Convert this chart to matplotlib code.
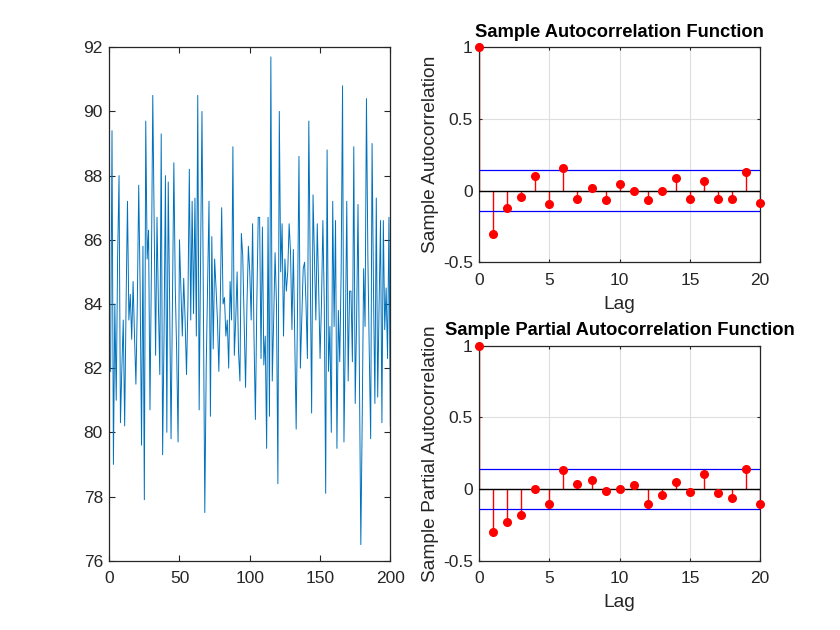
import numpy as np
import matplotlib
matplotlib.use("Agg")
import matplotlib.pyplot as plt

plt.rcParams['font.family'] = ['Liberation Sans', 'DejaVu Sans']

# ---- data ----
series = [
    81.9, 89.4, 79.0, 84.0, 81.0, 85.5, 88.0, 80.3, 82.0, 83.5,
    80.2, 84.0, 87.2, 83.5, 84.3, 82.9, 84.7, 83.0, 81.5, 84.0,
    87.7, 84.5, 79.6, 85.8, 77.9, 89.7, 85.4, 86.3, 80.7, 85.0,
    90.5, 86.5, 82.4, 86.7, 84.0, 81.8, 89.3, 79.3, 83.0, 88.0,
    80.0, 87.8, 84.0, 79.8, 84.0, 88.4, 84.5, 82.5, 79.7, 86.0,
    84.5, 83.0, 84.8, 83.5, 81.8, 84.0, 88.2, 83.5, 87.2, 83.7,
    87.3, 83.0, 90.5, 80.7, 85.5, 90.0, 84.0, 77.5, 82.0, 84.7,
    87.2, 80.5, 86.1, 82.6, 85.4, 84.5, 83.5, 81.9, 84.0, 87.0,
    84.0, 84.2, 83.0, 83.5, 82.0, 84.7, 83.5, 88.9, 82.4, 83.5,
    85.0, 82.5, 81.6, 86.2, 85.5, 83.5, 81.4, 84.0, 85.8, 85.0,
    83.5, 86.5, 83.0, 80.4, 84.0, 86.7, 86.7, 82.3, 86.4, 82.1,
    83.0, 79.5, 86.7, 80.5, 91.7, 81.6, 83.5, 85.6, 84.0, 78.4,
    90.0, 85.0, 86.5, 83.0, 85.4, 84.4, 85.0, 86.5, 85.6, 83.2,
    85.7, 83.0, 80.1, 84.0, 88.6, 82.0, 83.5, 85.1, 85.3, 84.0,
    82.3, 89.7, 85.0, 80.6, 87.4, 85.5, 83.5, 86.5, 84.5, 82.3,
    84.0, 86.6, 84.0, 78.1, 88.8, 81.9, 83.3, 80.0, 87.2, 83.3,
    86.6, 79.5, 83.8, 82.2, 85.0, 90.8, 79.7, 83.0, 87.2, 81.6,
    84.4, 84.4, 82.2, 88.9, 80.9, 83.5, 87.1, 82.0, 76.5, 80.5,
    85.1, 83.3, 90.4, 85.5, 82.5, 79.8, 89.0, 84.5, 80.9, 87.3,
    81.1, 84.0, 86.6, 80.3, 86.6, 83.2, 84.5, 82.3, 86.7, 80.2,
]
time_index = np.arange(1, len(series) + 1)

lags = np.arange(0, 21)
acf_values = [1.0, -0.30, -0.12, -0.047, 0.105, -0.096, 0.159, -0.061, 0.016,
              -0.063, 0.047, 0.0, -0.063, 0.0, 0.091, -0.061, 0.065, -0.056,
              -0.056, 0.131, -0.084]
pacf_values = [1.0, -0.299, -0.229, -0.182, -0.002, -0.107, 0.133, 0.033, 0.061,
               -0.014, -0.002, 0.028, -0.107, -0.04, 0.051, -0.021, 0.103, -0.026,
               -0.065, 0.138, -0.105]
conf_bound = 0.1414

# ---- style ----
AX_COL = '#262626'
TICK_FS = 12.5
LABEL_FS = 13.75
TITLE_FS = 13.2


def style_axes(ax, ticklen=4.0):
    for s in ax.spines.values():
        s.set_color(AX_COL)
        s.set_linewidth(0.9)
    ax.tick_params(direction='in', top=True, right=True, length=ticklen,
                   width=0.8, color=AX_COL, labelcolor=AX_COL,
                   labelsize=TICK_FS)
    ax.tick_params(axis='x', pad=7.5)
    ax.tick_params(axis='y', pad=4.5)


fig = plt.figure(figsize=(8.4, 6.3), dpi=100)
fig.patch.set_facecolor('white')

# left: time series
ax1 = fig.add_axes([0.13, 0.11, 0.3347, 0.815])
ax1.plot(time_index, series, color='#0072BD', lw=0.7)
ax1.set_xlim(0, 200)
ax1.set_ylim(76, 92)
ax1.set_xticks(np.arange(0, 201, 50))
ax1.set_yticks(np.arange(76, 93, 2))
style_axes(ax1, ticklen=4.0)


def corr_plot(ax, vals, title, ylabel):
    ax.set_axisbelow(True)
    ax.grid(True, color='#dedede', lw=0.8)
    ml, sl, bl = ax.stem(lags, vals, linefmt='r-', markerfmt='ro', basefmt=' ')
    plt.setp(sl, linewidth=1.0, color='#ff0000')
    plt.setp(ml, markersize=5.5, color='#ff0000', clip_on=False, zorder=4)
    ax.axhline(0, color='black', lw=1.0, zorder=3)
    ax.axhline(conf_bound, color='#0000ff', lw=0.9, zorder=3)
    ax.axhline(-conf_bound, color='#0000ff', lw=0.9, zorder=3)
    ax.set_xlim(0, 20)
    ax.set_ylim(-0.5, 1)
    ax.set_xticks(np.arange(0, 21, 5))
    ax.set_yticks([-0.5, 0, 0.5, 1])
    ax.set_yticklabels(['-0.5', '0', '0.5', '1'])
    style_axes(ax, ticklen=2.5)
    ax.set_title(title, fontsize=TITLE_FS, fontweight='bold', pad=7.5,
                 color='black')
    ax.set_xlabel('Lag', fontsize=LABEL_FS, color=AX_COL, labelpad=6)
    ax.set_ylabel(ylabel, fontsize=LABEL_FS, color=AX_COL, labelpad=3)


ax2 = fig.add_axes([0.5703, 0.5838, 0.3347, 0.3412])
corr_plot(ax2, acf_values, 'Sample Autocorrelation Function',
          'Sample Autocorrelation')

ax3 = fig.add_axes([0.5703, 0.11, 0.3347, 0.3412])
corr_plot(ax3, pacf_values, 'Sample Partial Autocorrelation Function',
          'Sample Partial Autocorrelation')

fig.savefig('out.png', dpi=100)
